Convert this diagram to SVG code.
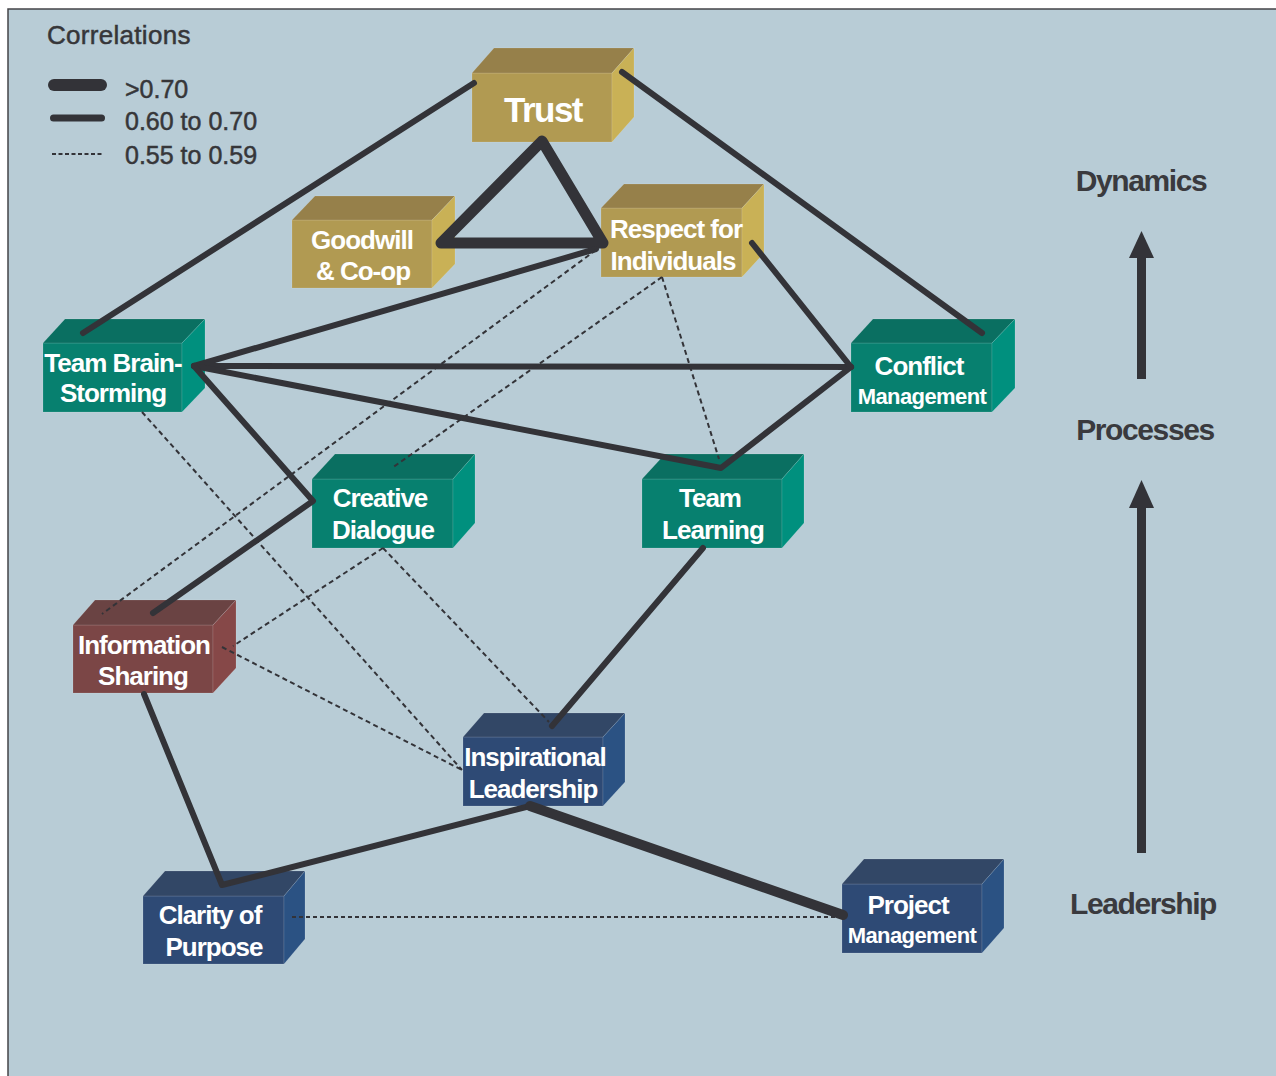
<svg xmlns="http://www.w3.org/2000/svg" width="1276" height="1076" viewBox="0 0 1276 1076">
<style>
.bg{fill:#B8CCD6}
.frame{fill:none;stroke:#444448;stroke-width:1.5}
.gold .f{fill:#B19A52}.gold .t{fill:#96804A}.gold .r{fill:#C9B156}
.teal .f{fill:#07806F}.teal .t{fill:#0A6F61}.teal .r{fill:#00907E}
.maroon .f{fill:#7B4646}.maroon .t{fill:#6A4343}.maroon .r{fill:#864848}
.navy .f{fill:#2E4A75}.navy .t{fill:#324766}.navy .r{fill:#2B5283}
.node polygon,.node rect{stroke:rgba(255,255,255,0.12);stroke-width:1}
.nt{font-family:"Liberation Sans",Arial,Helvetica,sans-serif;font-weight:bold;fill:#FFFFFF;font-size:26px;letter-spacing:-1px;text-anchor:middle}
.sm{font-size:22px;letter-spacing:-0.6px}
.big{font-size:35px;letter-spacing:-1.5px}
.lg{font-family:"Liberation Sans",Arial,Helvetica,sans-serif;fill:#363639;font-size:25px;letter-spacing:0px;stroke:#363639;stroke-width:0.5}
.side{font-family:"Liberation Sans",Arial,Helvetica,sans-serif;font-weight:bold;fill:#3A3A3E;font-size:30px;letter-spacing:-1.4px;text-anchor:middle}
.s{stroke:#333338;stroke-width:6;stroke-linecap:round;stroke-linejoin:round;fill:none}
.k{stroke:#333338;stroke-width:11;stroke-linecap:round;stroke-linejoin:round;fill:none}
.d{stroke:#333338;stroke-width:2;stroke-dasharray:5 3.5;fill:none}
.dd{stroke:#333338;stroke-width:2.2;stroke-dasharray:4 3;fill:none}
.ar{fill:#333338}
</style>
<rect x="0" y="0" width="1276" height="1076" fill="#FFFFFF"/>
<rect class="bg" x="8" y="9" width="1268" height="1067"/>
<path class="frame" d="M8,1076 V9 H1276"/>

<g id="legend">
<text class="lg" x="47" y="44" style="font-size:26px;letter-spacing:0.3px">Correlations</text>
<line class="s" x1="54" y1="85" x2="101" y2="85" style="stroke-width:12"/>
<line class="s" x1="53.5" y1="118" x2="101.5" y2="118" style="stroke-width:7"/>
<line class="d" x1="52" y1="154" x2="103" y2="154" style="stroke-dasharray:4 2.5"/>
<text class="lg" x="125" y="98">&gt;0.70</text>
<text class="lg" x="125" y="130">0.60 to 0.70</text>
<text class="lg" x="125" y="164">0.55 to 0.59</text>
</g>

<g id="trust" class="node gold">
<rect class="f" x="472" y="73" width="140" height="69"/>
<polygon class="t" points="472,73 494,48 634,48 612,73"/>
<polygon class="r" points="612,73 634,48 634,117 612,142"/>
<text class="nt big" x="543" y="122">Trust</text>
</g>
<g id="goodwill" class="node gold">
<rect class="f" x="292" y="220" width="140" height="68"/>
<polygon class="t" points="292,220 315,196 455,196 432,220"/>
<polygon class="r" points="432,220 455,196 455,264 432,288"/>
<text class="nt" x="362" y="249">Goodwill</text>
<text class="nt" x="363" y="280">&amp; Co-op</text>
</g>
<g id="respect" class="node gold">
<rect class="f" x="601" y="208" width="141" height="69"/>
<polygon class="t" points="601,208 624,184 764,184 742,208"/>
<polygon class="r" points="742,208 764,184 764,253 742,277"/>
<text class="nt" x="676" y="238">Respect for</text>
<text class="nt" x="673" y="270">Individuals</text>
</g>
<g id="brainstorming" class="node teal">
<rect class="f" x="43" y="343" width="139" height="69"/>
<polygon class="t" points="43,343 65,319 205,319 182,343"/>
<polygon class="r" points="182,343 205,319 205,388 182,412"/>
<text class="nt" x="113" y="372">Team Brain-</text>
<text class="nt" x="113" y="402">Storming</text>
</g>
<g id="conflict" class="node teal">
<rect class="f" x="851" y="343" width="141" height="69"/>
<polygon class="t" points="851,343 873,319 1015,319 992,343"/>
<polygon class="r" points="992,343 1015,319 1015,388 992,412"/>
<text class="nt" x="919" y="375">Conflict</text>
<text class="nt sm" x="922" y="404">Management</text>
</g>
<g id="creative" class="node teal">
<rect class="f" x="312" y="479" width="141" height="69"/>
<polygon class="t" points="312,479 335,454 475,454 453,479"/>
<polygon class="r" points="453,479 475,454 475,523 453,548"/>
<text class="nt" x="380" y="507">Creative</text>
<text class="nt" x="383" y="539">Dialogue</text>
</g>
<g id="learning" class="node teal">
<rect class="f" x="642" y="479" width="140" height="69"/>
<polygon class="t" points="642,479 665,454 804,454 782,479"/>
<polygon class="r" points="782,479 804,454 804,523 782,548"/>
<text class="nt" x="710" y="507">Team</text>
<text class="nt" x="713" y="539">Learning</text>
</g>
<g id="information" class="node maroon">
<rect class="f" x="73" y="625" width="140" height="68"/>
<polygon class="t" points="73,625 95,600 236,600 213,625"/>
<polygon class="r" points="213,625 236,600 236,668 213,693"/>
<text class="nt" x="144" y="654">Information</text>
<text class="nt" x="143" y="685">Sharing</text>
</g>
<g id="inspirational" class="node navy">
<rect class="f" x="463" y="737" width="140" height="69"/>
<polygon class="t" points="463,737 484,713 625,713 603,737"/>
<polygon class="r" points="603,737 625,713 625,782 603,806"/>
<text class="nt" x="535" y="766">Inspirational</text>
<text class="nt" x="533" y="798">Leadership</text>
</g>
<g id="clarity" class="node navy">
<rect class="f" x="143" y="896" width="141" height="68"/>
<polygon class="t" points="143,896 165,871 305,871 284,896"/>
<polygon class="r" points="284,896 305,871 305,939 284,964"/>
<text class="nt" x="210" y="924">Clarity of</text>
<text class="nt" x="214" y="956">Purpose</text>
</g>
<g id="project" class="node navy">
<rect class="f" x="842" y="884" width="140" height="69"/>
<polygon class="t" points="842,884 864,859 1004,859 982,884"/>
<polygon class="r" points="982,884 1004,859 1004,928 982,953"/>
<text class="nt" x="908" y="914">Project</text>
<text class="nt sm" x="912" y="943">Management</text>
</g>

<g id="connectors">
<line class="s" x1="474" y1="83" x2="83" y2="333"/>
<line class="s" x1="622" y1="72" x2="982" y2="333"/>
<polygon class="k" points="542,141 441,243 603,243"/>
<line class="s" x1="596" y1="249" x2="194" y2="366"/>
<line class="s" x1="194" y1="366" x2="851" y2="367"/>
<polyline class="s" points="194,366 721,468 851,367"/>
<line class="s" x1="752" y1="243" x2="851" y2="367"/>
<polyline class="s" points="194,366 313,501 153,613"/>
<line class="s" x1="703" y1="548" x2="552" y2="726"/>
<polyline class="s" points="144,694 222,885 530,806"/>
<line class="k" x1="530" y1="806" x2="843" y2="915" style="stroke-width:10"/>
<line class="d" x1="596" y1="250" x2="102" y2="614"/>
<line class="d" x1="662" y1="277" x2="392" y2="468"/>
<line class="d" x1="662" y1="277" x2="719" y2="459"/>
<line class="d" x1="142" y1="412" x2="462" y2="770"/>
<line class="d" x1="222" y1="647" x2="462" y2="770"/>
<line class="d" x1="383" y1="548" x2="233" y2="646"/>
<line class="d" x1="383" y1="548" x2="549" y2="722"/>
<line class="dd" x1="292" y1="917" x2="843" y2="917"/>
</g>

<g id="levels">
<text class="side" x="1141" y="191">Dynamics</text>
<text class="side" x="1145" y="440">Processes</text>
<text class="side" x="1143" y="914">Leadership</text>
<rect class="ar" x="1137" y="256" width="9" height="123"/>
<polygon class="ar" points="1141.5,231 1154,258 1129,258"/>
<rect class="ar" x="1137" y="505" width="9" height="348"/>
<polygon class="ar" points="1141.5,480 1154,508 1129,508"/>
</g>
</svg>
